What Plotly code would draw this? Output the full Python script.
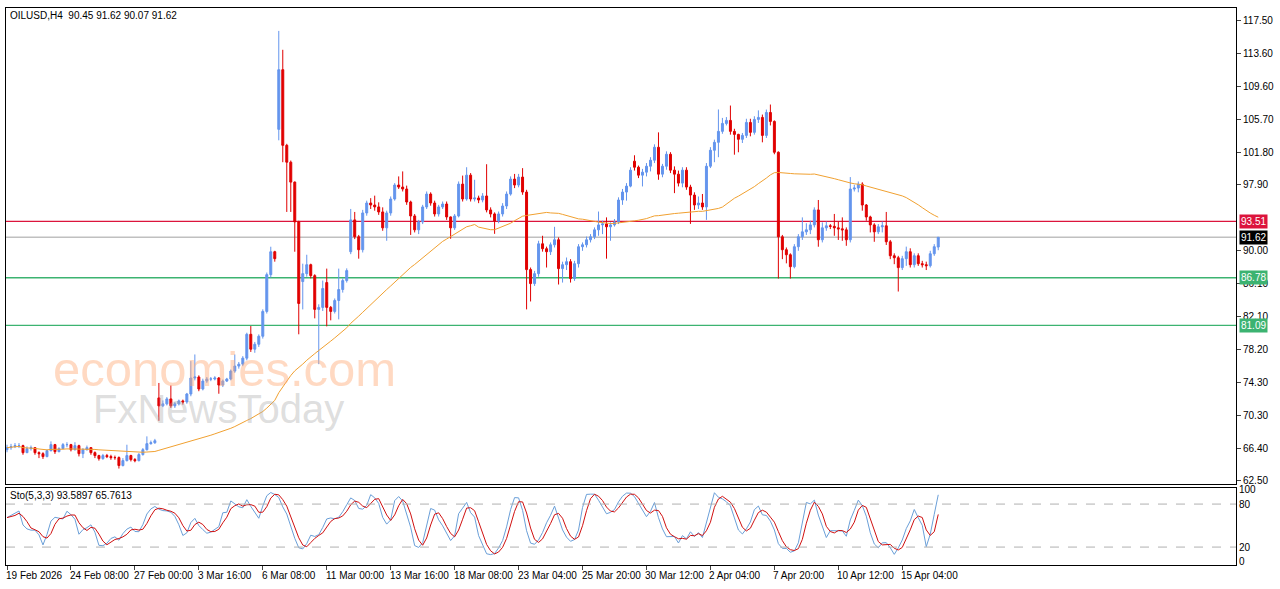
import numpy as np
import pandas as pd
import plotly.graph_objects as go

# OILUSD H4
closes = [
    66.45, 66.57, 66.69, 66.69, 65.85, 66.33, 66.45, 65.85, 65.73, 65.38,
    66.09, 66.81, 65.97, 66.33, 66.81, 66.81, 66.21, 66.69, 65.73, 66.21,
    66.45, 65.85, 65.50, 65.14, 65.50, 65.38, 65.26, 65.26, 64.31, 64.90,
    65.50, 65.02, 64.90, 65.62, 66.21, 66.93, 67.04, 67.28, 71.45, 71.69,
    72.28, 71.45, 71.69, 72.04, 71.92, 72.87, 74.78, 74.90, 73.47, 74.42,
    74.66, 74.66, 74.78, 73.94, 74.42, 74.66, 75.61, 76.21, 76.44, 77.16,
    80.01, 78.23, 78.82, 79.78, 82.75, 87.15, 89.89, 89.06, 111.67, 102.62,
    100.60, 98.22, 93.46, 83.70, 87.27, 88.34, 87.03, 82.99, 83.23, 85.49,
    83.23, 82.75, 84.06, 85.37, 86.44, 87.63, 93.70, 91.68, 90.13, 94.53,
    95.72, 95.48, 95.25, 94.65, 92.75, 94.53, 96.20, 97.87, 97.63, 97.39,
    95.84, 94.17, 92.51, 93.46, 95.25, 96.79, 95.72, 94.41, 95.25, 95.60,
    94.05, 92.75, 94.17, 97.98, 96.20, 99.05, 96.20, 96.32, 96.08, 96.56,
    94.89, 94.41, 93.58, 94.41, 95.36, 96.79, 98.58, 97.87, 98.82, 97.03,
    87.75, 86.08, 87.27, 90.84, 90.25, 89.89, 90.72, 91.32, 87.87, 88.34,
    88.70, 86.68, 88.46, 90.49, 90.72, 91.32, 91.68, 92.51, 93.10, 93.22,
    92.87, 93.10, 93.46, 96.08, 97.03, 97.74, 99.65, 100.00, 99.05, 99.41,
    100.12, 100.84, 102.39, 99.17, 100.12, 101.55, 99.65, 99.17, 98.10, 99.65,
    97.63, 96.67, 95.48, 95.72, 95.25, 100.12, 102.03, 102.98, 104.29, 105.24,
    105.60, 104.29, 103.93, 103.34, 103.81, 105.36, 104.17, 105.72, 105.96, 103.81,
    106.55, 105.48, 101.79, 91.68, 90.13, 89.53, 88.10, 90.49, 91.68, 92.27,
    92.51, 93.10, 94.89, 91.32, 92.75, 92.99, 92.93, 92.75, 92.63, 92.51,
    91.32, 97.39, 97.51, 97.98, 95.48, 94.05, 93.10, 92.27, 92.87, 92.99,
    91.08, 89.41, 89.17, 87.99, 89.06, 89.89, 88.34, 89.41, 88.46, 88.34,
    88.22, 89.65, 90.49, 91.62,
]
highs = [
    66.8, 66.9, 67.0, 67.0, 66.8, 66.6, 66.7, 66.5, 66.0, 65.9,
    66.2, 67.2, 66.9, 66.5, 67.0, 67.1, 66.9, 67.1, 66.8, 66.4,
    66.7, 66.5, 66.0, 65.6, 65.7, 65.7, 65.6, 65.5, 65.4, 65.2,
    66.8, 65.6, 65.2, 65.8, 66.4, 67.8, 67.3, 67.5, 74.19, 72.1,
    72.5, 73.9, 71.9, 72.2, 72.2, 73.0, 76.8, 77.6, 75.1, 74.7,
    74.9, 74.9, 75.0, 74.9, 74.6, 74.8, 75.8, 77.6, 76.7, 77.4,
    80.2, 81.0, 79.1, 80.0, 83.0, 87.4, 90.49, 90.0, 116.31, 114.05,
    102.8, 100.8, 98.3, 93.6, 88.46, 89.53, 88.46, 87.2, 83.6, 86.44,
    87.87, 83.4, 84.3, 87.87, 86.7, 87.9, 95.01, 94.65, 91.9, 94.9,
    96.0, 96.3, 96.6, 95.8, 95.2, 94.8, 96.5, 98.1, 98.9, 99.5,
    97.8, 96.0, 94.4, 93.7, 95.5, 97.1, 97.0, 96.0, 95.5, 95.9,
    95.9, 94.1, 94.4, 98.3, 99.0, 100.0, 99.3, 98.5, 96.6, 96.9,
    100.36, 95.2, 94.6, 94.7, 95.7, 97.1, 98.9, 99.2, 99.2, 99.89,
    97.3, 88.0, 87.6, 91.2, 91.8, 90.5, 91.0, 92.87, 91.6, 88.7,
    89.2, 89.0, 88.8, 90.8, 91.0, 91.7, 92.0, 92.8, 94.7, 93.6,
    94.0, 93.4, 93.8, 96.4, 97.4, 98.1, 100.0, 101.43, 100.2, 99.8,
    100.5, 101.2, 102.74, 104.17, 100.4, 101.9, 101.8, 100.1, 99.6, 100.0,
    100.0, 97.9, 97.0, 96.5, 96.8, 100.5, 102.4, 103.3, 106.91, 105.9,
    106.0, 107.38, 104.6, 104.0, 104.1, 105.8, 105.8, 106.1, 106.8, 106.3,
    106.9, 107.5, 105.6, 101.9, 91.9, 90.4, 89.7, 90.8, 92.0, 94.0,
    93.3, 93.6, 95.2, 96.08, 93.4, 93.5, 93.2, 94.41, 93.5, 94.0,
    92.8, 98.82, 97.9, 98.3, 98.2, 95.6, 94.2, 93.3, 93.2, 93.5,
    94.65, 91.3, 89.7, 89.4, 89.4, 90.5, 90.3, 89.7, 89.7, 88.8,
    88.7, 90.0, 90.8, 91.62,
]
lows = [
    65.9, 66.2, 66.4, 66.4, 65.6, 65.8, 66.1, 65.6, 65.2, 65.1,
    65.3, 66.0, 65.7, 65.9, 66.3, 66.5, 66.0, 66.1, 65.4, 65.2,
    66.1, 65.6, 65.2, 64.9, 65.0, 65.2, 65.0, 65.0, 63.95, 64.2,
    64.8, 64.8, 64.7, 64.8, 65.5, 66.1, 66.8, 66.9, 69.66, 71.3,
    71.5, 71.2, 71.2, 71.5, 71.6, 71.7, 72.6, 74.5, 73.2, 73.3,
    74.2, 74.4, 74.5, 72.9, 73.7, 74.3, 74.5, 75.4, 75.9, 76.2,
    76.9, 77.9, 77.8, 78.5, 79.5, 82.5, 86.8, 88.7, 103.22, 100.6,
    94.65, 94.65, 89.89, 80.01, 82.99, 86.9, 86.7, 81.92, 76.44, 82.8,
    80.96, 81.68, 82.5, 81.80, 85.0, 86.2, 89.6, 91.4, 89.06, 89.8,
    94.2, 95.0, 94.8, 94.3, 92.4, 91.2, 94.2, 96.0, 97.4, 97.1,
    95.5, 91.9, 92.2, 92.0, 93.2, 95.0, 95.4, 94.1, 94.1, 95.0,
    93.7, 91.44, 92.5, 94.0, 95.9, 96.0, 95.9, 95.9, 95.7, 95.8,
    94.6, 94.0, 92.03, 93.3, 94.1, 95.0, 96.6, 97.5, 97.6, 96.7,
    82.99, 83.94, 85.8, 86.9, 89.9, 88.0, 89.5, 90.4, 85.97, 86.2,
    87.7, 86.2, 86.4, 88.0, 90.0, 90.4, 91.0, 91.4, 91.8, 92.0,
    89.06, 91.2, 92.9, 93.2, 95.5, 96.0, 97.6, 99.6, 98.7, 97.7,
    98.9, 99.5, 100.5, 98.5, 98.8, 99.7, 99.3, 96.9, 97.7, 97.6,
    97.3, 93.22, 94.9, 95.0, 94.9, 93.70, 99.9, 100.6, 101.2, 104.0,
    105.0, 103.9, 101.5, 101.79, 102.9, 103.5, 103.7, 103.9, 105.3, 102.98,
    103.5, 105.0, 101.55, 86.68, 89.0, 88.5, 86.68, 87.9, 90.0, 91.3,
    91.9, 92.0, 92.8, 90.49, 91.0, 92.4, 92.6, 91.8, 91.3, 91.2,
    90.6, 91.0, 97.1, 97.0, 94.8, 93.6, 92.2, 91.08, 92.0, 92.2,
    90.7, 89.0, 88.4, 85.13, 87.7, 88.2, 88.0, 88.0, 88.2, 88.0,
    87.7, 88.0, 89.4, 90.07,
]
first_open = 66.21
# bars that open away from the previous close (weekend gaps etc.)
gap_opens = {38: 72.40, 68: 104.53, 74: 86.32, 80: 86.20, 86: 89.89, 157: 100.72, 233: 90.45}

tick_pos = [0, 16, 32, 48, 64, 80, 96, 112, 128, 144, 160, 176, 192, 208, 224]
tick_text = ["19 Feb 2026", "24 Feb 08:00", "27 Feb 00:00", "3 Mar 16:00", "6 Mar 08:00",
             "11 Mar 00:00", "13 Mar 16:00", "18 Mar 08:00", "23 Mar 04:00", "25 Mar 20:00",
             "30 Mar 12:00", "2 Apr 04:00", "7 Apr 20:00", "10 Apr 12:00", "15 Apr 04:00"]
price_ticks = [117.50, 113.60, 109.60, 105.70, 101.80, 97.90, 90.00, 86.10, 82.10, 78.20, 74.30, 70.30, 66.40, 62.50]

levels = [(93.51, "#dc143c"), (86.78, "#3cb371"), (81.09, "#3cb371")]
last_price = 91.62

df = pd.DataFrame({"close": closes, "high": highs, "low": lows})
opens = [first_open] + closes[:-1]
for k, v in gap_opens.items():
    opens[k] = v
df["open"] = opens
idx = list(range(len(df)))

# indicators
ma = df["close"].rolling(50, min_periods=1).mean()
ll = df["low"].rolling(5, min_periods=1).min()
hh = df["high"].rolling(5, min_periods=1).max()
num = (df["close"] - ll).rolling(3, min_periods=1).sum()
den = (hh - ll).rolling(3, min_periods=1).sum()
sto_k = 100 * num / den
sto_d = sto_k.rolling(3, min_periods=1).mean()

FONT = "Liberation Sans"

fig = go.Figure()
fig.add_trace(go.Candlestick(
    x=idx, open=df["open"], high=df["high"], low=df["low"], close=df["close"],
    increasing=dict(line=dict(color="#6495ed", width=1), fillcolor="#6495ed"),
    decreasing=dict(line=dict(color="#e00000", width=1), fillcolor="#e00000"),
    whiskerwidth=0, showlegend=False, hoverinfo="skip"))
fig.add_trace(go.Scatter(x=idx, y=ma, mode="lines", line=dict(color="#f0a030", width=1),
                         showlegend=False, hoverinfo="skip"))
fig.add_trace(go.Scatter(x=idx, y=sto_k, mode="lines", line=dict(color="#6a9fd8", width=1),
                         xaxis="x2", yaxis="y2", showlegend=False, hoverinfo="skip"))
fig.add_trace(go.Scatter(x=idx, y=sto_d, mode="lines", line=dict(color="#d01010", width=1),
                         xaxis="x2", yaxis="y2", showlegend=False, hoverinfo="skip"))

for lv, col in levels + [(last_price, "#c0c0c0")]:
    fig.add_shape(type="line", xref="x domain", yref="y", x0=0, x1=1, y0=lv, y1=lv,
                  line=dict(color=col, width=1.3), layer="below")
for lv, col in levels + [(last_price, "black")]:
    fig.add_annotation(x=1, xref="paper", y=lv, yref="y", text=f"{lv:.2f}", showarrow=False,
                       xanchor="left", xshift=3, bgcolor=col, font=dict(color="white", size=10),
                       borderpad=1)
for lv in (80, 20):
    fig.add_shape(type="line", xref="x2 domain", yref="y2", x0=0, x1=1, y0=lv, y1=lv,
                  line=dict(color="#b0b0b0", width=1, dash="dash"))

for p, t in zip(tick_pos, tick_text):
    fig.add_annotation(x=p, xref="x2", y=-0.006, yref="paper", yanchor="top", xanchor="left",
                       text=t, showarrow=False, xshift=-3, font=dict(size=10, color="black"))

fig.add_annotation(x=0.002, xref="paper", y=1, yref="paper", xanchor="left", yanchor="top",
                   text="OILUSD,H4  90.45 91.62 90.07 91.62", showarrow=False,
                   font=dict(size=10, color="black"))
fig.add_annotation(x=0.002, xref="paper", y=0.139, yref="paper", xanchor="left", yanchor="top",
                   text="Sto(5,3,3) 93.5897 65.7613", showarrow=False, font=dict(size=10, color="black"))
# watermark
fig.add_annotation(x=11, xref="x", y=75.9, yref="y", xanchor="left", text="economies.com", showarrow=False,
                   font=dict(size=49, color="rgba(255,170,120,0.45)", family=FONT))
fig.add_annotation(x=21, xref="x", y=71.1, yref="y", xanchor="left", text="FxNewsToday", showarrow=False,
                   font=dict(size=40, color="rgba(170,170,170,0.4)", family=FONT))

fig.update_layout(
    width=1280, height=589,
    margin=dict(l=5, r=44, t=5, b=24),
    paper_bgcolor="white", plot_bgcolor="white",
    font=dict(family=FONT, size=10, color="black"),
    xaxis=dict(domain=[0, 1], range=[-0.25, 307.5], anchor="y", showticklabels=False,
               showgrid=False, zeroline=False, rangeslider=dict(visible=False),
               showline=True, linecolor="black", mirror=True),
    yaxis=dict(domain=[0.146, 1], range=[62.14, 119.05], side="right", tickvals=price_ticks,
               ticktext=[f"{v:.2f}" for v in price_ticks], ticks="outside", ticklen=4,
               showgrid=False, zeroline=False, showline=True, linecolor="black", mirror=True),
    xaxis2=dict(domain=[0, 1], range=[-0.25, 307.5], anchor="y2", matches="x", showticklabels=False,
                tickvals=tick_pos, ticks="outside", ticklen=4, showgrid=False, zeroline=False,
                showline=True, linecolor="black", mirror=True),
    yaxis2=dict(domain=[0, 0.139], range=[-5, 103], side="right", tickvals=[100, 80, 20, 0],
                ticks="", showgrid=False, zeroline=False, showline=True, linecolor="black", mirror=True),
)

fig.write_html("out.html", config={"displayModeBar": False},
               post_script="document.body.style.margin='0';")
